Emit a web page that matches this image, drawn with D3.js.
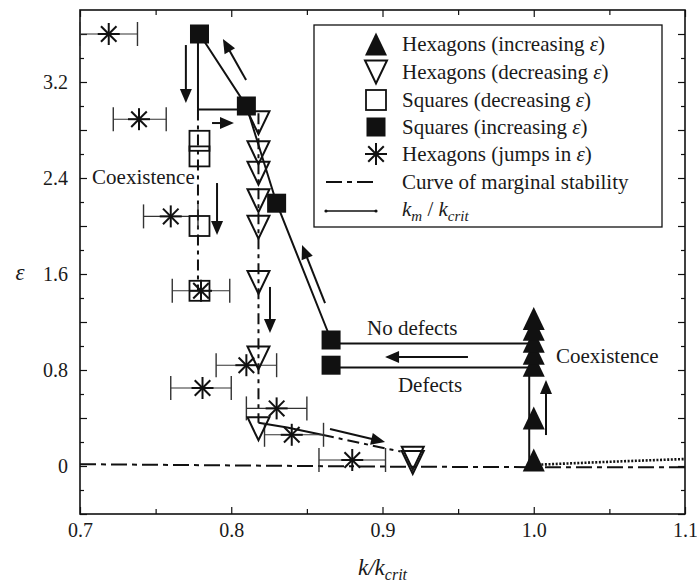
<!DOCTYPE html>
<html>
<head>
<meta charset="utf-8">
<script src="https://cdn.jsdelivr.net/npm/d3@7"></script>
<style>
  html, body { margin: 0; padding: 0; background: #fff; }
  svg { display: block; }
  text { font-family: "Liberation Serif", "Times New Roman", serif; fill: #1a1a1a; }
</style>
</head>
<body>
<svg id="chart" width="697" height="587"></svg>
<script>
// ---- data ----------------------------------------------------------
// Hexagons, increasing epsilon (filled up-triangles)
const hexIncK   = [1.0, 1.0, 1.0, 1.0, 1.0, 1.0, 1.0];
const hexIncEps = [0.05, 0.40, 0.84, 0.94, 1.04, 1.14, 1.23];
// Hexagons, decreasing epsilon (open down-triangles)
const hexDecK   = [0.818, 0.818, 0.818, 0.818, 0.818, 0.818, 0.818, 0.818, 0.92, 0.92];
const hexDecEps = [2.86, 2.61, 2.44, 2.21, 1.99, 1.53, 0.90, 0.31, 0.065, 0.03];
// Squares, decreasing epsilon (open squares)
const sqDecK   = [0.779, 0.779, 0.779, 0.779];
const sqDecEps = [2.71, 2.58, 2.00, 1.46];
// Squares, increasing epsilon (filled squares)
const sqIncK   = [0.779, 0.81, 0.83, 0.866, 0.866];
const sqIncEps = [3.60, 3.00, 2.19, 1.05, 0.84];
// Hexagons, jumps in epsilon (asterisks with horizontal error bars)
const jumpK   = [0.719, 0.739, 0.760, 0.780, 0.781, 0.810, 0.830, 0.840, 0.880];
const jumpEps = [3.60, 2.89, 2.08, 1.46, 0.65, 0.84, 0.48, 0.26, 0.05];
const jumpLo  = [0.700, 0.722, 0.742, 0.761, 0.760, 0.790, 0.810, 0.822, 0.858];
const jumpHi  = [0.738, 0.757, 0.778, 0.799, 0.800, 0.830, 0.850, 0.861, 0.902];
// Curve of marginal stability
const msK   = [0.70, 0.80, 0.90, 1.00, 1.10];
const msEps = [0.015, 0.005, -0.005, -0.010, -0.010];
// k_m / k_crit paths
const kmSquaresK   = [0.779, 0.81, 0.83, 0.866];
const kmSquaresEps = [3.60, 3.00, 2.19, 1.05];
const kmStepK      = [0.778, 0.778, 0.81];
const kmStepEps    = [3.55, 2.97, 2.97];
const kmNoDefK     = [0.866, 0.997];
const kmNoDefEps   = [1.02, 1.02];
const kmDefK       = [0.866, 0.997];
const kmDefEps     = [0.82, 0.82];
const kmRiseK      = [0.997, 0.997];
const kmRiseEps    = [0.0, 0.82];
const kmLowK       = [0.818, 0.837, 0.860];
const kmLowEps     = [0.36, 0.32, 0.26];
const kmLowDashK   = [0.860, 0.912];
const kmLowDashEps = [0.26, 0.12];
const kmRightK     = [1.005, 1.05, 1.10];
const kmRightEps   = [0.012, 0.035, 0.058];
// vertical dash-dot guides for the decreasing runs
const guideSqK   = [0.778, 0.778];
const guideSqEps = [2.97, 1.46];
const guideHexK   = [0.818, 0.818];
const guideHexEps = [2.94, 0.36];
// arrows: start and end (k, eps)
const arrowFromK   = [0.8098, 0.770, 0.7873, 0.7906, 0.862, 0.8256, 0.8653, 0.9565, 1.0081];
const arrowFromEps = [3.217, 3.508, 2.858, 2.358, 1.358, 1.492, 0.308, 0.908, 0.258];
const arrowToK     = [0.7945, 0.770, 0.8018, 0.7906, 0.8468, 0.8256, 0.9017, 0.9017, 1.0081];
const arrowToEps   = [3.558, 3.025, 2.858, 1.925, 1.842, 1.108, 0.200, 0.908, 0.717];
// text annotations
const noteText = ["Coexistence", "No defects", "Defects", "Coexistence"];
const noteK    = [0.708, 0.8898, 0.9102, 1.0147];
const noteEps  = [2.35, 1.09, 0.62, 0.86];
// axis ticks
const xMajor = [0.7, 0.8, 0.9, 1.0, 1.1];
const xMinor = [0.75, 0.85, 0.95, 1.05];
const yLabels = [0, 0.8, 1.6, 2.4, 3.2];
const yLong  = [-0.4, 0, 0.4, 0.8, 1.2, 1.6, 2.0, 2.4, 2.8, 3.2, 3.6];
const yShort = [-0.2, 0.2, 0.6, 1.0, 1.4, 1.8, 2.2, 2.6, 3.0, 3.4];
// legend
const legendLabels = [
  "Hexagons (increasing ε)",
  "Hexagons (decreasing ε)",
  "Squares (decreasing ε)",
  "Squares (increasing ε)",
  "Hexagons (jumps in ε)",
  "Curve of marginal stability"
];

// ---- layout --------------------------------------------------------
const svg = d3.select("#chart");
const pL = 80, pR = 685, pT = 10, pB = 514;
const x = d3.scaleLinear().domain([0.7, 1.1]).range([pL, pR]);
const y = d3.scaleLinear().domain([-0.4, 3.8]).range([pB, pT]);

const ink = "#111";
const pts = (ks, es) => ks.map((k, i) => [x(k), y(es[i])]);
const line = d3.line();

// ---- axes ----------------------------------------------------------
const fmt = d => d === 0 ? "0" : d.toFixed(1);
function axisGroup(axis, tx, ty) {
  const g = svg.append("g").attr("transform", `translate(${tx},${ty})`).call(axis);
  g.select(".domain").remove();
  g.selectAll(".tick line").attr("stroke", ink).attr("stroke-width", 1.2);
  g.selectAll("text").attr("font-size", 20).attr("font-family", "Liberation Serif").attr("fill", "#1a1a1a");
  return g;
}
// bottom
axisGroup(d3.axisBottom(x).tickValues(xMajor).tickFormat(fmt).tickSizeInner(-7).tickSizeOuter(0).tickPadding(9), 0, pB);
axisGroup(d3.axisBottom(x).tickValues(xMinor).tickFormat("").tickSizeInner(-5).tickSizeOuter(0), 0, pB);
// top
axisGroup(d3.axisTop(x).tickValues(xMajor).tickFormat("").tickSizeInner(-7).tickSizeOuter(0), 0, pT);
axisGroup(d3.axisTop(x).tickValues(xMinor).tickFormat("").tickSizeInner(-5).tickSizeOuter(0), 0, pT);
// left
axisGroup(d3.axisLeft(y).tickValues(yLabels).tickFormat(fmt).tickSizeInner(0).tickSizeOuter(0).tickPadding(12), pL, 0);
axisGroup(d3.axisLeft(y).tickValues(yLong).tickFormat("").tickSizeInner(-7).tickSizeOuter(0), pL, 0);
axisGroup(d3.axisLeft(y).tickValues(yShort).tickFormat("").tickSizeInner(-4).tickSizeOuter(0), pL, 0);
// right
axisGroup(d3.axisRight(y).tickValues(yLong).tickFormat("").tickSizeInner(-7).tickSizeOuter(0), pR, 0);
axisGroup(d3.axisRight(y).tickValues(yShort).tickFormat("").tickSizeInner(-4).tickSizeOuter(0), pR, 0);

// frame
svg.append("rect")
  .attr("x", pL).attr("y", pT).attr("width", pR - pL).attr("height", pB - pT)
  .attr("fill", "none").attr("stroke", ink).attr("stroke-width", 1.6);

// axis titles
const xt = svg.append("text").attr("x", (pL + pR) / 2).attr("y", 575)
  .attr("text-anchor", "middle").attr("font-size", 23).attr("font-style", "italic");
xt.append("tspan").text("k/k");
xt.append("tspan").attr("font-size", 16).attr("dy", 5).text("crit");
svg.append("text").attr("x", 20).attr("y", y(1.6) + 6).attr("text-anchor", "middle")
  .attr("font-size", 23).attr("font-style", "italic").text("ε");

// ---- lines -----------------------------------------------------------
const plot = svg.append("g");
const dashDot = "16,5,5,5";

// curve of marginal stability
plot.append("path").attr("d", line(pts(msK, msEps)))
  .attr("fill", "none").attr("stroke", ink).attr("stroke-width", 2).attr("stroke-dasharray", dashDot);
// dash-dot guides
[[guideSqK, guideSqEps], [guideHexK, guideHexEps]].forEach(([ks, es]) => {
  plot.append("path").attr("d", line(pts(ks, es)))
    .attr("fill", "none").attr("stroke", ink).attr("stroke-width", 2).attr("stroke-dasharray", "11,5,4,5");
});
// k_m solid paths
[[kmSquaresK, kmSquaresEps], [kmStepK, kmStepEps], [kmNoDefK, kmNoDefEps], [kmDefK, kmDefEps],
 [kmRiseK, kmRiseEps], [kmLowK, kmLowEps]].forEach(([ks, es]) => {
  plot.append("path").attr("d", line(pts(ks, es)))
    .attr("fill", "none").attr("stroke", ink).attr("stroke-width", 2);
});
plot.append("path").attr("d", line(pts(kmLowDashK, kmLowDashEps)))
  .attr("fill", "none").attr("stroke", ink).attr("stroke-width", 2).attr("stroke-dasharray", "12,5,4,5");
plot.append("path").attr("d", d3.line().curve(d3.curveMonotoneX)(pts(kmRightK, kmRightEps)))
  .attr("fill", "none").attr("stroke", ink).attr("stroke-width", 2.6).attr("stroke-dasharray", "2,1.6");

// error bars for the jump points
const eb = plot.append("g").attr("stroke", "#333").attr("stroke-width", 1.1);
jumpK.forEach((k, i) => {
  const yy = y(jumpEps[i]);
  eb.append("line").attr("x1", x(jumpLo[i])).attr("x2", x(jumpHi[i])).attr("y1", yy).attr("y2", yy);
  [jumpLo[i], jumpHi[i]].forEach(v => {
    eb.append("line").attr("x1", x(v)).attr("x2", x(v)).attr("y1", yy - 12).attr("y2", yy + 12)
      .attr("stroke-width", 1.4);
  });
});

// arrows
arrowFromK.forEach((k, i) => {
  const x0 = x(k), y0 = y(arrowFromEps[i]);
  const tx = x(arrowToK[i]), ty = y(arrowToEps[i]);
  const dx = tx - x0, dy = ty - y0;
  const len = Math.hypot(dx, dy);
  const ux = dx / len, uy = dy / len;
  // shaft stops short so the head sits at the tip
  plot.append("line")
    .attr("x1", x0).attr("y1", y0)
    .attr("x2", tx - ux * 8).attr("y2", ty - uy * 8)
    .attr("stroke", ink).attr("stroke-width", 2);
  const hl = 14, hw = 6;
  plot.append("path")
    .attr("d", `M${tx},${ty} L${tx - ux * hl - uy * hw},${ty - uy * hl + ux * hw} L${tx - ux * hl + uy * hw},${ty - uy * hl - ux * hw} Z`)
    .attr("fill", ink);
});

// ---- markers ---------------------------------------------------------
const triW = 22, triH = 23;
const triUp = `M0,${-triH / 2} L${triW / 2},${triH / 2} L${-triW / 2},${triH / 2} Z`;
const triDown = `M${-triW / 2},${-triH / 2} L${triW / 2},${-triH / 2} L0,${triH / 2} Z`;
function asterisk(g, cx, cy, r) {
  const a = g.append("g").attr("transform", `translate(${cx},${cy})`)
    .attr("stroke", ink).attr("stroke-width", 2);
  [0, 45, 90, 135].forEach(deg => {
    const t = deg * Math.PI / 180;
    a.append("line").attr("x1", -r * Math.cos(t)).attr("y1", -r * Math.sin(t))
      .attr("x2", r * Math.cos(t)).attr("y2", r * Math.sin(t));
  });
}

plot.selectAll(null).data(sqDecK).join("rect")
  .attr("x", (d, i) => x(d) - 10).attr("y", (d, i) => y(sqDecEps[i]) - 10)
  .attr("width", 20).attr("height", 20)
  .attr("fill", "none").attr("stroke", ink).attr("stroke-width", 1.8);
plot.selectAll(null).data(hexDecK).join("path")
  .attr("transform", (d, i) => `translate(${x(d)},${y(hexDecEps[i])})`)
  .attr("d", triDown).attr("fill", "none").attr("stroke", ink).attr("stroke-width", 2);
plot.selectAll(null).data(sqIncK).join("rect")
  .attr("x", (d, i) => x(d) - 9.5).attr("y", (d, i) => y(sqIncEps[i]) - 9.5)
  .attr("width", 19).attr("height", 19).attr("fill", ink);
plot.selectAll(null).data(hexIncK).join("path")
  .attr("transform", (d, i) => `translate(${x(d)},${y(hexIncEps[i])})`)
  .attr("d", triUp).attr("fill", ink);
jumpK.forEach((k, i) => asterisk(plot, x(k), y(jumpEps[i]), 11));

// ---- annotations -------------------------------------------------------
noteText.forEach((t, i) => {
  svg.append("text").attr("x", x(noteK[i])).attr("y", y(noteEps[i]))
    .attr("font-size", 21).text(t);
});

// ---- legend ------------------------------------------------------------
const lg = svg.append("g");
lg.append("rect").attr("x", 314).attr("y", 25).attr("width", 348).attr("height", 202)
  .attr("fill", "#fff").attr("stroke", ink).attr("stroke-width", 1.3);
const rowY = [44, 72, 100, 127, 154, 182, 211];
const symX = 376, textX = 402;
lg.append("path").attr("transform", `translate(${symX},${rowY[0]})`).attr("d", triUp).attr("fill", ink);
lg.append("path").attr("transform", `translate(${symX},${rowY[1]})`).attr("d", triDown)
  .attr("fill", "none").attr("stroke", ink).attr("stroke-width", 2);
lg.append("rect").attr("x", symX - 10).attr("y", rowY[2] - 10).attr("width", 20).attr("height", 20)
  .attr("fill", "none").attr("stroke", ink).attr("stroke-width", 1.8);
lg.append("rect").attr("x", symX - 9.5).attr("y", rowY[3] - 9.5).attr("width", 19).attr("height", 19).attr("fill", ink);
asterisk(lg, symX, rowY[4], 11);
lg.append("line").attr("x1", 326).attr("x2", 376).attr("y1", rowY[5]).attr("y2", rowY[5])
  .attr("stroke", ink).attr("stroke-width", 2).attr("stroke-dasharray", dashDot);
lg.append("line").attr("x1", 326).attr("x2", 376).attr("y1", rowY[6]).attr("y2", rowY[6])
  .attr("stroke", ink).attr("stroke-width", 1.6);
[326, 376].forEach(cx => lg.append("circle").attr("cx", cx).attr("cy", rowY[6]).attr("r", 1.6).attr("fill", ink));

legendLabels.forEach((t, i) => {
  const txt = lg.append("text").attr("x", textX).attr("y", rowY[i] + 7).attr("font-size", 21);
  const parts = t.split("ε");
  txt.append("tspan").text(parts[0]);
  if (parts.length > 1) {
    txt.append("tspan").attr("font-style", "italic").text("ε");
    txt.append("tspan").text(parts[1]);
  }
});
const km = lg.append("text").attr("x", textX).attr("y", rowY[6] + 5).attr("font-size", 21).attr("font-style", "italic");
km.append("tspan").text("k");
km.append("tspan").attr("font-size", 15).attr("dy", 5).text("m");
km.append("tspan").attr("dy", -5).attr("font-style", "normal").text(" / ");
km.append("tspan").text("k");
km.append("tspan").attr("font-size", 15).attr("dy", 5).text("crit");
</script>
</body>
</html>
